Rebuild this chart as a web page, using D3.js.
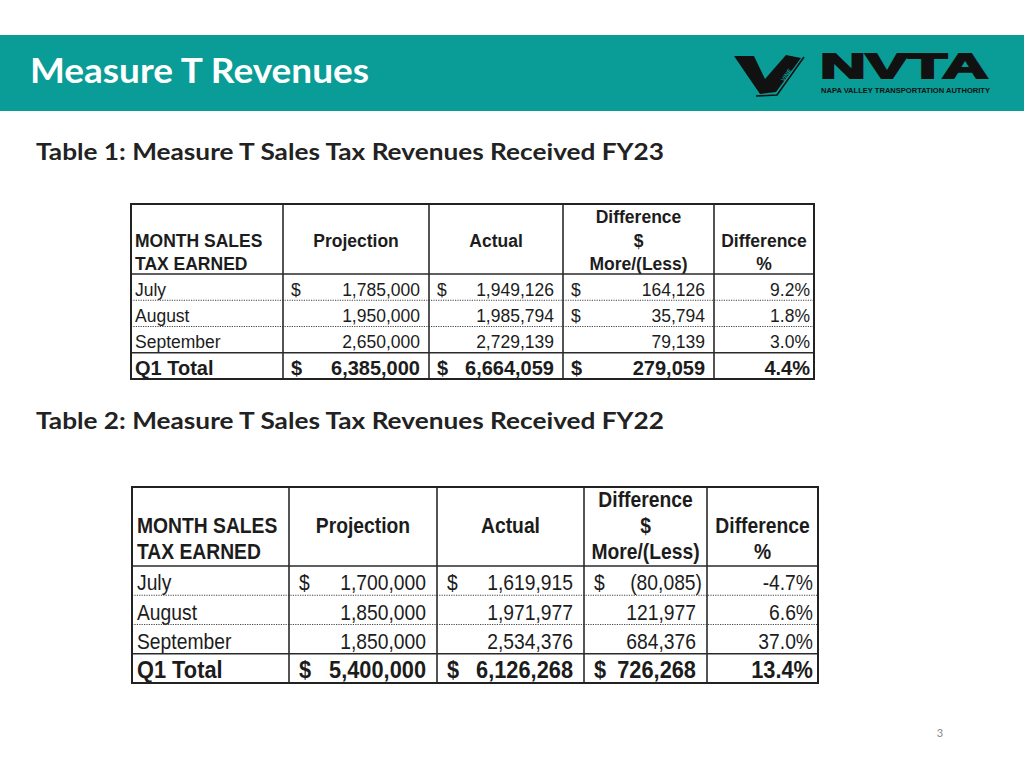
<!DOCTYPE html>
<html><head><meta charset="utf-8">
<script src="https://cdn.jsdelivr.net/npm/d3@7"></script>
<style>html,body{margin:0;padding:0;background:#fff;}svg{display:block;}</style>
</head><body>
<svg id="c" width="1024" height="768"></svg>
<script>
// ---------- DATA ----------
const pageTitle = "Measure T Revenues";
const table1Title = "Table 1: Measure T Sales Tax Revenues Received FY23";
const table2Title = "Table 2: Measure T Sales Tax Revenues Received FY22";
const months = ["July", "August", "September"];
const totalLabel = "Q1 Total";

const t1Projection = [1785000, 1950000, 2650000];
const t1Actual = [1949126, 1985794, 2729139];
const t1Diff = [164126, 35794, 79139];
const t1Pct = [9.2, 1.8, 3.0];
const t1Totals = [6385000, 6664059, 279059, 4.4];
// which month cells show a "$" (projection, actual, difference)
const t1Dollar = [[true, true, true], [false, false, true], [false, false, false]];

const t2Projection = [1700000, 1850000, 1850000];
const t2Actual = [1619915, 1971977, 2534376];
const t2Diff = [-80085, 121977, 684376];
const t2Pct = [-4.7, 6.6, 37.0];
const t2Totals = [5400000, 6126268, 726268, 13.4];
const t2Dollar = [[true, true, true], [false, false, false], [false, false, false]];

const headerMonth = ["MONTH SALES", "TAX EARNED"];
const headerProj = "Projection";
const headerActual = "Actual";
const headerDiff = ["Difference", "$", "More/(Less)"];
const headerPct = ["Difference", "%"];

// ---------- DRAW ----------
const svg = d3.select("#c");
const teal = "#0a9c96";

svg.append("rect").attr("x", 0).attr("y", 35).attr("width", 1024).attr("height", 76).attr("fill", teal);
svg.append("text").text(pageTitle).attr("x", 30).attr("y", 83)
  .attr("font-family", "Lato, 'Open Sans', sans-serif").attr("font-weight", 700)
  .attr("font-size", 34).attr("fill", "#fff")
  .attr("textLength", 339).attr("lengthAdjust", "spacingAndGlyphs");

// Logo
const logo = svg.append("g");
logo.append("path").attr("d", "M734,56 L754,56 L765,79 L786,55 L801,58 L776,92 L760,94 Z").attr("fill", "#111");
logo.append("path").attr("d", "M756,96 L777,95 L804,57").attr("fill", "none").attr("stroke", "#111").attr("stroke-width", 1.6);
logo.append("text").text("VINE").attr("transform", "translate(784,82) rotate(-55)")
  .attr("font-family", "'Liberation Sans', Arial, sans-serif").attr("font-weight", 700)
  .attr("font-size", 6).attr("fill", teal);
logo.append("text").text("NVTA").attr("x", 820).attr("y", 78)
  .attr("font-family", "'Liberation Sans', Arial, sans-serif").attr("font-weight", 900)
  .attr("font-size", 35).attr("fill", "#111").attr("stroke", "#111").attr("stroke-width", 2)
  .attr("textLength", 168).attr("lengthAdjust", "spacingAndGlyphs");
logo.append("text").text("NAPA VALLEY TRANSPORTATION AUTHORITY").attr("x", 821).attr("y", 93)
  .attr("font-family", "'Liberation Sans', Arial, sans-serif").attr("font-weight", 700)
  .attr("font-size", 6.5).attr("fill", "#111")
  .attr("textLength", 169).attr("lengthAdjust", "spacingAndGlyphs");

// Subtitles
[[table1Title, 160], [table2Title, 429]].forEach(([t, y]) => {
  svg.append("text").text(t).attr("x", 36).attr("y", y)
    .attr("font-family", "Lato, 'Open Sans', sans-serif").attr("font-weight", 700)
    .attr("font-size", 22).attr("fill", "#222")
    .attr("textLength", 628).attr("lengthAdjust", "spacingAndGlyphs");
});

svg.append("text").text("3").attr("x", 940).attr("y", 737).attr("text-anchor", "middle")
  .attr("font-family", "Lato, sans-serif").attr("font-size", 11).attr("fill", "#8a8a8a");

const fmtNum = d3.format(",.0f");
function acct(v) { return v < 0 ? "(" + fmtNum(-v) + ")" : fmtNum(v); }
function pct(v) { return v.toFixed(1) + "%"; }

function drawTable(cfg) {
  const g = svg.append("g");
  const cols = cfg.cols;                 // column edges
  const left = cols[0], right = cols[cols.length - 1];
  const rowY = d3.scaleLinear().domain([0, 4]).range([cfg.headBottom, cfg.bottom]);
  const headY = d3.scaleLinear().domain([0, 2]).range(cfg.headLines);
  const font = "'Liberation Sans', Arial, sans-serif";
  const sy = cfg.sy;

  function txt(s, x, y, anchor, bold, fs) {
    g.append("text").text(s)
      .attr("transform", `translate(${x},${y}) scale(1,${sy})`)
      .attr("text-anchor", anchor || "start")
      .attr("font-family", font).attr("font-size", fs || cfg.fs)
      .attr("font-weight", bold ? 700 : 400).attr("fill", "#1c1c1c");
  }

  // header text
  txt(headerMonth[0], left + cfg.padL, headY(1), "start", true);
  txt(headerMonth[1], left + cfg.padL, headY(2), "start", true);
  txt(headerProj, (cols[1] + cols[2]) / 2, headY(1), "middle", true);
  txt(headerActual, (cols[2] + cols[3]) / 2, headY(1), "middle", true);
  headerDiff.forEach((h, i) => txt(h, (cols[3] + cols[4]) / 2, headY(i), "middle", true));
  txt(headerPct[0], (cols[4] + cols[5]) / 2, headY(1), "middle", true);
  txt(headerPct[1], (cols[4] + cols[5]) / 2, headY(2), "middle", true);

  const series = [cfg.proj, cfg.actual, cfg.diff];
  months.forEach((m, r) => {
    const y = rowY(r + 1) - cfg.baseOff;
    txt(m, left + cfg.padL, y, "start", false);
    series.forEach((s, c) => {
      if (cfg.dollar[r][c]) txt("$", cols[c + 1] + cfg.padDollar, y, "start", false);
      const v = s[r];
      txt(acct(v), cols[c + 2] - (v < 0 ? cfg.padNeg : cfg.padR), y, "end", false);
    });
    txt(pct(cfg.pct[r]), cols[5] - cfg.padPct, y, "end", false);
  });
  // totals
  const yt = rowY(4) - cfg.baseOff;
  const tfs = cfg.totalFs;
  txt(totalLabel, left + cfg.padL, yt, "start", true, tfs);
  cfg.totals.slice(0, 3).forEach((v, c) => {
    txt("$", cols[c + 1] + cfg.padDollar, yt, "start", true, tfs);
    txt(acct(v), cols[c + 2] - cfg.padR, yt, "end", true, tfs);
  });
  txt(pct(cfg.totals[3]), cols[5] - cfg.padPct, yt, "end", true, tfs);

  // dotted separators
  [1, 2].forEach(i => {
    g.append("line").attr("x1", left).attr("x2", right).attr("y1", rowY(i)).attr("y2", rowY(i))
      .attr("stroke", "#444").attr("stroke-width", 1.2).attr("stroke-dasharray", "1.2,1.2");
  });
  // solid lines
  [cfg.headBottom, rowY(3)].forEach(y => {
    g.append("line").attr("x1", left).attr("x2", right).attr("y1", y).attr("y2", y)
      .attr("stroke", "#2a2a2a").attr("stroke-width", 1.6);
  });
  cols.slice(1, -1).forEach(x => {
    g.append("line").attr("x1", x).attr("x2", x).attr("y1", cfg.top).attr("y2", cfg.bottom)
      .attr("stroke", "#2a2a2a").attr("stroke-width", 1.6);
  });
  g.append("rect").attr("x", left).attr("y", cfg.top).attr("width", right - left)
    .attr("height", cfg.bottom - cfg.top).attr("fill", "none")
    .attr("stroke", "#222").attr("stroke-width", 2);
}

drawTable({
  cols: [131, 283, 429, 563, 714, 814],
  top: 204, headBottom: 274, bottom: 379,
  headLines: [223, 270], baseOff: 4.5,
  fs: 17.5, totalFs: 20, sy: 1.0, padL: 4, padDollar: 8, padR: 9, padNeg: 4, padPct: 4,
  proj: t1Projection, actual: t1Actual, diff: t1Diff, pct: t1Pct,
  totals: t1Totals, dollar: t1Dollar
});

drawTable({
  cols: [132, 289, 437, 584, 707, 818],
  top: 487, headBottom: 566, bottom: 683,
  headLines: [507, 559], baseOff: 5,
  fs: 19.3, totalFs: 21.8, sy: 1.1, padL: 5, padDollar: 10, padR: 11, padNeg: 5, padPct: 5,
  proj: t2Projection, actual: t2Actual, diff: t2Diff, pct: t2Pct,
  totals: t2Totals, dollar: t2Dollar
});
</script>
</body></html>
